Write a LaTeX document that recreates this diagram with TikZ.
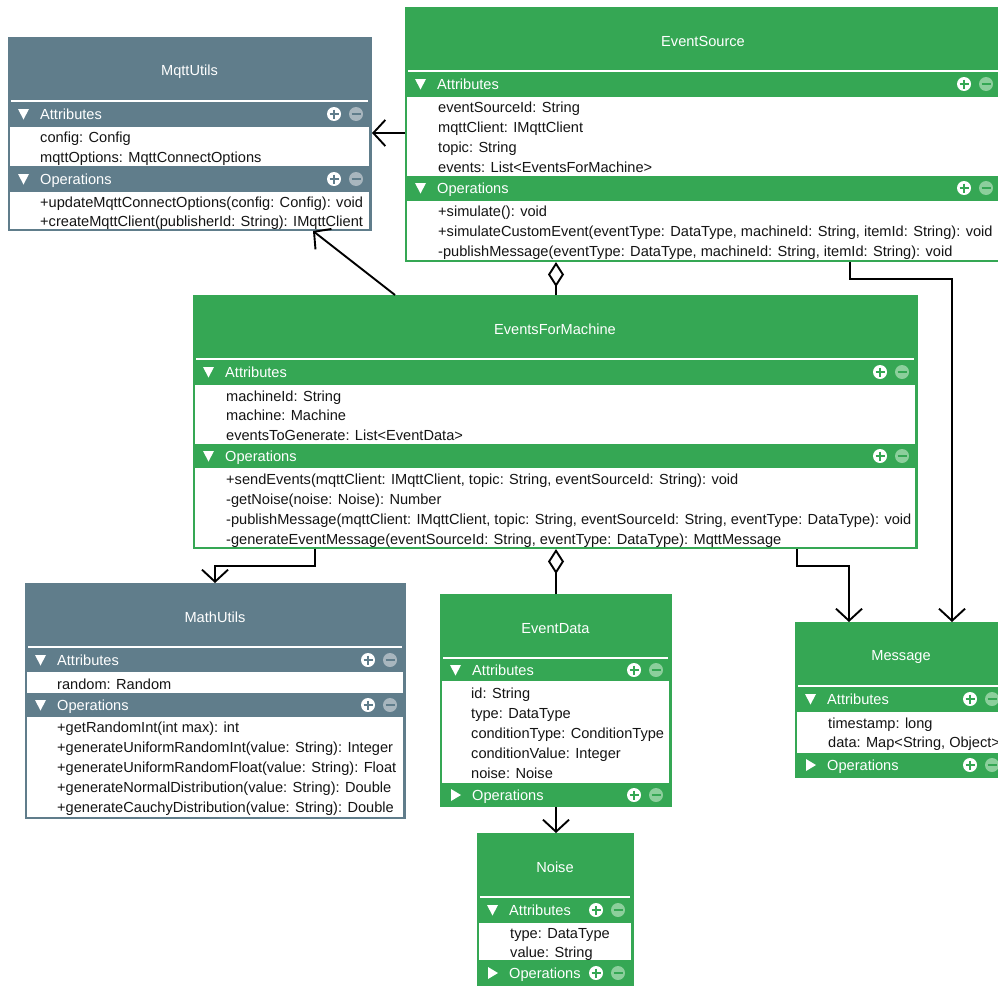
\documentclass[tikz,border=0pt]{standalone}
\usepackage{fontspec}
\setmainfont{Liberation Sans}
\usetikzlibrary{arrows.meta}

\definecolor{umlgreen}{RGB}{53,167,84}
\definecolor{umlgreenlt}{RGB}{140,207,156}
\definecolor{umlslate}{RGB}{96,125,139}
\definecolor{umlslatelt}{RGB}{168,182,190}
\definecolor{membertext}{RGB}{20,20,20}

\tikzset{
  classbox/.style={draw=#1, fill=#1, line width=1pt, rectangle, inner sep=0pt},
  classtitle/.style={text=white, inner sep=0pt, yshift=-2.5pt},
  bartext/.style={text=white, anchor=west, inner sep=0pt, text height=10.5pt, text depth=3pt, yshift=-2pt},
  member/.style={text=membertext, anchor=west, inner sep=0pt, text height=10.5pt, text depth=3pt, yshift=-2.5pt},
  link/.style={draw=black, line width=1.9pt},
  uses/.style={link, -{Straight Barb[length=12pt,width=26pt]}},
  aggregate/.style={link, -{Diamond[open,length=25pt,width=16pt]}},
}

% class frame: name, colour, left, top, right, bottom, title
\newcommand{\classhead}[7]{%
  \node[classbox=#2, minimum width={(#5-#3)*1pt}, minimum height={(#6-#4)*1pt},
        anchor=north west] (#1) at (#3,#4) {};
  \node[classtitle] (#1-name) at ({(#3+#5)/2},{#4+32}) {#7};
  \draw[white, line width=2pt] ({#3+3},{#4+64}) -- ({#5-3},{#4+64});
}
% white compartment: left, right, top, bottom
\newcommand{\classbody}[4]{\fill[white] ({#1+2},#3) rectangle ({#2-2},#4);}
% add / remove buttons: right edge, y, colour
\newcommand{\baricons}[3]{%
  \fill[white] ({#1-37},#2) circle (7pt);
  \draw[#3, line width=2.2pt] ({#1-41.5},#2) -- ({#1-32.5},#2)
                              ({#1-37},{#2-4.5}) -- ({#1-37},{#2+4.5});
  \fill[#3lt] ({#1-15},#2) circle (7pt);
  \draw[#3, line width=2.2pt] ({#1-19.5},#2) -- ({#1-10.5},#2);
}
% expanded compartment bar: node name, left, right, y, label, colour
\newcommand{\classbar}[6]{%
  \fill[white] ({#2+10},{#4-5}) -- ({#2+21},{#4-5}) -- ({#2+15.5},{#4+5.5}) -- cycle;
  \node[bartext] (#1) at ({#2+32},#4) {#5};
  \baricons{#3}{#4}{#6}
}
% collapsed compartment bar
\newcommand{\closedbar}[6]{%
  \fill[white] ({#2+11},{#4-6}) -- ({#2+11},{#4+6}) -- ({#2+21},#4) -- cycle;
  \node[bartext] (#1) at ({#2+32},#4) {#5};
  \baricons{#3}{#4}{#6}
}
% member lines: name prefix, x, list of y/text
\newcommand{\members}[3]{%
  \foreach \yy/\txt [count=\k] in {#3} {\node[member] (#1\k) at (#2,\yy) {\txt};}
}

\begin{document}
\begin{tikzpicture}[x=1pt, y=-1pt, font=\fontsize{14.6}{17}\selectfont]
\useasboundingbox (0,0) rectangle (998,985);
\clip (0,0) rectangle (998,985);

% ---------- MqttUtils ----------
\classhead{mq}{umlslate}{8}{37}{371}{230}{MqttUtils}
\classbody{8}{371}{127}{166}
\classbody{8}{371}{192}{228.5}
\classbar{mq-attr}{8}{371}{114}{Attributes}{umlslate}
\classbar{mq-ops}{8}{371}{179}{Operations}{umlslate}
\members{mq-a}{40}{136/{config: Config}, 156/{mqttOptions: MqttConnectOptions}}
\members{mq-o}{40}{201/{+updateMqttConnectOptions(config: Config): void},
                   220/{+createMqttClient(publisherId: String): IMqttClient}}

% ---------- EventSource ----------
\classhead{es}{umlgreen}{405}{7}{1001}{261}{EventSource}
\classbody{405}{1001}{97}{176}
\classbody{405}{1001}{201}{259.5}
\classbar{es-attr}{405}{1001}{84}{Attributes}{umlgreen}
\classbar{es-ops}{405}{1001}{188}{Operations}{umlgreen}
\members{es-a}{438}{106/{eventSourceId: String}, 126/{mqttClient: IMqttClient},
                    146/{topic: String}, 166/{events: List<EventsForMachine>}}
\members{es-o}{438}{210/{+simulate(): void},
  230/{+simulateCustomEvent(eventType: DataType, machineId: String, itemId: String): void},
  250/{-publishMessage(eventType: DataType, machineId: String, itemId: String): void}}

% ---------- EventsForMachine ----------
\classhead{efm}{umlgreen}{193}{295}{917}{548}{EventsForMachine}
\classbody{193}{917}{385}{444}
\classbody{193}{917}{468}{546.5}
\classbar{efm-attr}{193}{917}{372}{Attributes}{umlgreen}
\classbar{efm-ops}{193}{917}{456}{Operations}{umlgreen}
\members{efm-a}{226}{395/{machineId: String}, 414/{machine: Machine},
                     434/{eventsToGenerate: List<EventData>}}
\members{efm-o}{226}{478/{+sendEvents(mqttClient: IMqttClient, topic: String, eventSourceId: String): void},
  498/{-getNoise(noise: Noise): Number},
  518/{-publishMessage(mqttClient: IMqttClient, topic: String, eventSourceId: String, eventType: DataType): void},
  538/{-generateEventMessage(eventSourceId: String, eventType: DataType): MqttMessage}}

% ---------- MathUtils ----------
\classhead{mu}{umlslate}{25}{583}{405}{818}{MathUtils}
\classbody{25}{405}{672}{693}
\classbody{25}{405}{717}{816.5}
\classbar{mu-attr}{25}{405}{660}{Attributes}{umlslate}
\classbar{mu-ops}{25}{405}{705}{Operations}{umlslate}
\members{mu-a}{57}{683/{random: Random}}
\members{mu-o}{57}{726/{+getRandomInt(int max): int},
  746/{+generateUniformRandomInt(value: String): Integer},
  766/{+generateUniformRandomFloat(value: String): Float},
  786/{+generateNormalDistribution(value: String): Double},
  806/{+generateCauchyDistribution(value: String): Double}}

% ---------- EventData ----------
\classhead{ed}{umlgreen}{440}{594}{671}{806}{EventData}
\classbody{440}{671}{681}{783}
\classbar{ed-attr}{440}{671}{670}{Attributes}{umlgreen}
\closedbar{ed-ops}{440}{671}{795}{Operations}{umlgreen}
\members{ed-a}{471}{692/{id: String}, 712/{type: DataType},
  732/{conditionType: ConditionType}, 752/{conditionValue: Integer}, 772/{noise: Noise}}

% ---------- Message ----------
\classhead{msg}{umlgreen}{795}{622}{1007}{777}{Message}
\classbody{795}{1007}{712}{752.5}
\classbar{msg-attr}{795}{1007}{699}{Attributes}{umlgreen}
\closedbar{msg-ops}{795}{1007}{765}{Operations}{umlgreen}
\members{msg-a}{828}{722/{timestamp: long}, 741/{data: Map<String, Object>}}

% ---------- Noise ----------
\classhead{no}{umlgreen}{477}{833}{633}{985}{Noise}
\classbody{477}{633}{923}{960}
\classbar{no-attr}{477}{633}{910}{Attributes}{umlgreen}
\closedbar{no-ops}{477}{633}{973}{Operations}{umlgreen}
\members{no-a}{510}{932/{type: DataType}, 951/{value: String}}

% ---------- relations ----------
\coordinate (esmq) at ([yshift=-126pt]es.north west);
\draw[uses] (esmq) -- (esmq -| mq.east);

\coordinate (efmmq) at ([xshift=202pt]efm.north west);
\coordinate (mqin) at ([xshift=305pt]mq.south west);
\draw[uses] (efmmq) -- (mqin);

\coordinate (efmes) at ([xshift=363pt]efm.north west);
\draw[aggregate] (efmes) -- (efmes |- es.south);

\coordinate (esmsg) at ([xshift=445pt]es.south west);
\coordinate (msgin1) at ([xshift=157pt]msg.north west);
\draw[uses] (esmsg) -- ++(0,17) -| (msgin1);

\coordinate (efmmu) at ([xshift=122pt]efm.south west);
\coordinate (muin) at ([xshift=190pt]mu.north west);
\draw[uses] (efmmu) -- ++(0,17) -| (muin);

\draw[aggregate] (ed.north) -- (ed.north |- efm.south);

\coordinate (efmmsg) at ([xshift=604pt]efm.south west);
\coordinate (msgin2) at ([xshift=54pt]msg.north west);
\draw[uses] (efmmsg) -- ++(0,17) -| (msgin2);

\draw[uses] (ed.south) -- (ed.south |- no.north);
\end{tikzpicture}
\end{document}
